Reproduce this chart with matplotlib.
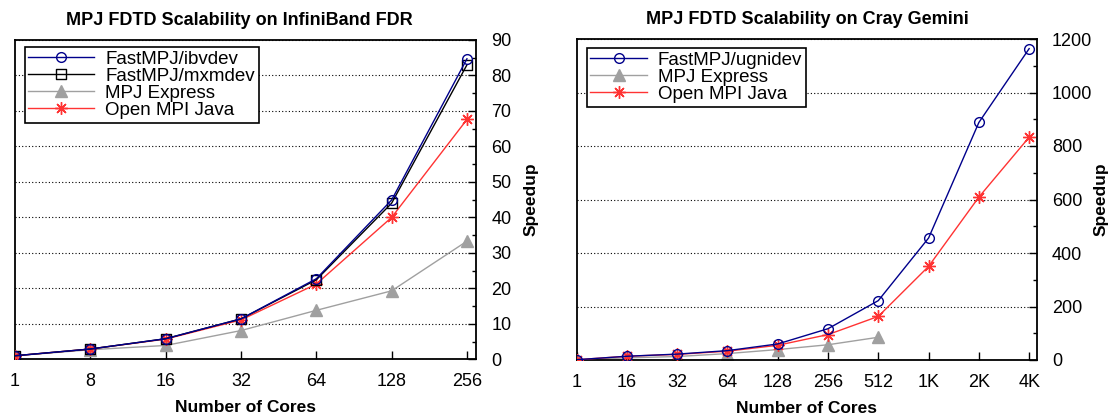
import matplotlib
matplotlib.use("Agg")
import matplotlib.pyplot as plt
from matplotlib.path import Path
from matplotlib.ticker import MultipleLocator

plt.rcParams['font.family'] = ['Liberation Sans', 'DejaVu Sans']

# left chart: InfiniBand FDR
ib_cores = ["1", "8", "16", "32", "64", "128", "256"]
ib_ibvdev = [1, 2.9, 5.8, 11.4, 22.7, 44.9, 84.7]
ib_mxmdev = [1, 2.9, 5.8, 11.4, 22.4, 44.0, 83.0]
ib_mpje = [1, 2.7, 3.9, 8.1, 13.8, 19.3, 33.3]
ib_ompi = [1, 2.9, 5.7, 11.1, 21.2, 40.0, 67.6]

# right chart: Cray Gemini
cg_cores = ["1", "16", "32", "64", "128", "256", "512", "1K", "2K", "4K"]
cg_ugnidev = [1, 14, 22, 35, 60, 117, 222, 456, 888, 1164]
cg_mpje = [1, 8, 13, 24, 39, 57, 85]
cg_ompi = [1, 14, 21, 33, 55, 95, 163, 350, 609, 833]

BLUE = "#00008B"
GRAY = "#A0A0A0"
RED = "#FF3333"

# square with a dot in the middle (gnuplot style)
sq = [(-1, -1), (1, -1), (1, 1), (-1, 1), (-1, -1)]
dt = [(-0.1, -0.1), (0.1, -0.1), (0.1, 0.1), (-0.1, 0.1), (-0.1, -0.1)]
codes = [Path.MOVETO, Path.LINETO, Path.LINETO, Path.LINETO, Path.CLOSEPOLY] * 2
SQDOT = Path(sq + dt, codes)
STAR = (8, 2, 0)

fig = plt.figure(figsize=(11.13, 4.16), dpi=100)
ax1 = fig.add_axes([15/1113, 1 - 359.3/416, 461/1113, 319.3/416])
ax2 = fig.add_axes([576.6/1113, 1 - 360/416, 460.1/1113, 321/416])


def style(ax, ncat, xmax, ymax, major, minor, labels, title, tx, lab_x):
    ax.set_xlim(0, xmax)
    ax.set_ylim(0, ymax)
    ax.set_xticks(range(ncat))
    ax.set_xticklabels(labels)
    ax.yaxis.set_major_locator(MultipleLocator(major))
    ax.yaxis.set_minor_locator(MultipleLocator(minor))
    ax.tick_params(axis='x', direction='in', length=6, width=1, pad=10, labelsize=13)
    ax.tick_params(axis='y', which='both', direction='in', left=False, right=True,
                   labelleft=False, labelright=True, labelsize=13, pad=11)
    ax.tick_params(axis='y', which='major', length=6, width=1)
    ax.tick_params(axis='y', which='minor', length=3, width=1)
    ax.yaxis.grid(True, which='major', linestyle=(0, (1, 2)), color='black', lw=0.8)
    for s in ax.spines.values():
        s.set_linewidth(1.3)
    ax.yaxis.set_label_position('right')
    ax.set_ylabel("Speedup", fontsize=12.5, fontweight='bold')
    ax.yaxis.set_label_coords(lab_x, 0.5)
    ax.set_xlabel("Number of Cores", fontsize=12.5, fontweight='bold')
    ax.xaxis.set_label_coords(0.5, -0.127)
    ax.text(tx, 1.062, title, transform=ax.transAxes, ha='center', va='center',
            fontsize=13, fontweight='bold')


def legend(ax, x, y, hl):
    h, l = ax.get_legend_handles_labels()
    lg = ax.legend(h[::-1], l[::-1], loc='upper left', bbox_to_anchor=(x, y),
                   borderaxespad=0, fontsize=13.5, labelspacing=0.0,
                   handlelength=hl, handletextpad=0.6, borderpad=0.2,
                   fancybox=False, framealpha=1, edgecolor='black')
    lg.get_frame().set_linewidth(1.2)


x1 = range(len(ib_cores))
ax1.plot(x1, ib_ompi, color=RED, lw=1, marker=STAR, ms=9, mew=1, label="Open MPI Java", zorder=3)
ax1.plot(x1, ib_mpje, color=GRAY, lw=1, marker='^', ms=8, mfc=GRAY, mec=GRAY, label="MPJ Express", zorder=2)
ax1.plot(x1, ib_mxmdev, color='black', lw=1, marker=SQDOT, ms=7, mfc='none', mew=1, label="FastMPJ/mxmdev", zorder=3)
ax1.plot(x1, ib_ibvdev, color=BLUE, lw=1, marker='o', ms=7, mfc='none', mew=1, label="FastMPJ/ibvdev", zorder=3)
style(ax1, len(ib_cores), 6.12, 90, 10, 5, ib_cores,
      "MPJ FDTD Scalability on InfiniBand FDR", 0.486, 1.104)
legend(ax1, 0.021, 0.979, 3.5)

x2 = range(len(cg_cores))
ax2.plot(x2, cg_ompi, color=RED, lw=1, marker=STAR, ms=9, mew=1, label="Open MPI Java", zorder=3)
ax2.plot(range(len(cg_mpje)), cg_mpje, color=GRAY, lw=1, marker='^', ms=8, mfc=GRAY, mec=GRAY,
         label="MPJ Express", zorder=2)
ax2.plot(x2, cg_ugnidev, color=BLUE, lw=1, marker='o', ms=7, mfc='none', mew=1,
         label="FastMPJ/ugnidev", zorder=3)
style(ax2, len(cg_cores), 9.15, 1200, 200, 100, cg_cores,
      "MPJ FDTD Scalability on Cray Gemini", 0.502, 1.1246)
legend(ax2, 0.022, 0.973, 3.0)

fig.savefig("out.png", dpi=100)
